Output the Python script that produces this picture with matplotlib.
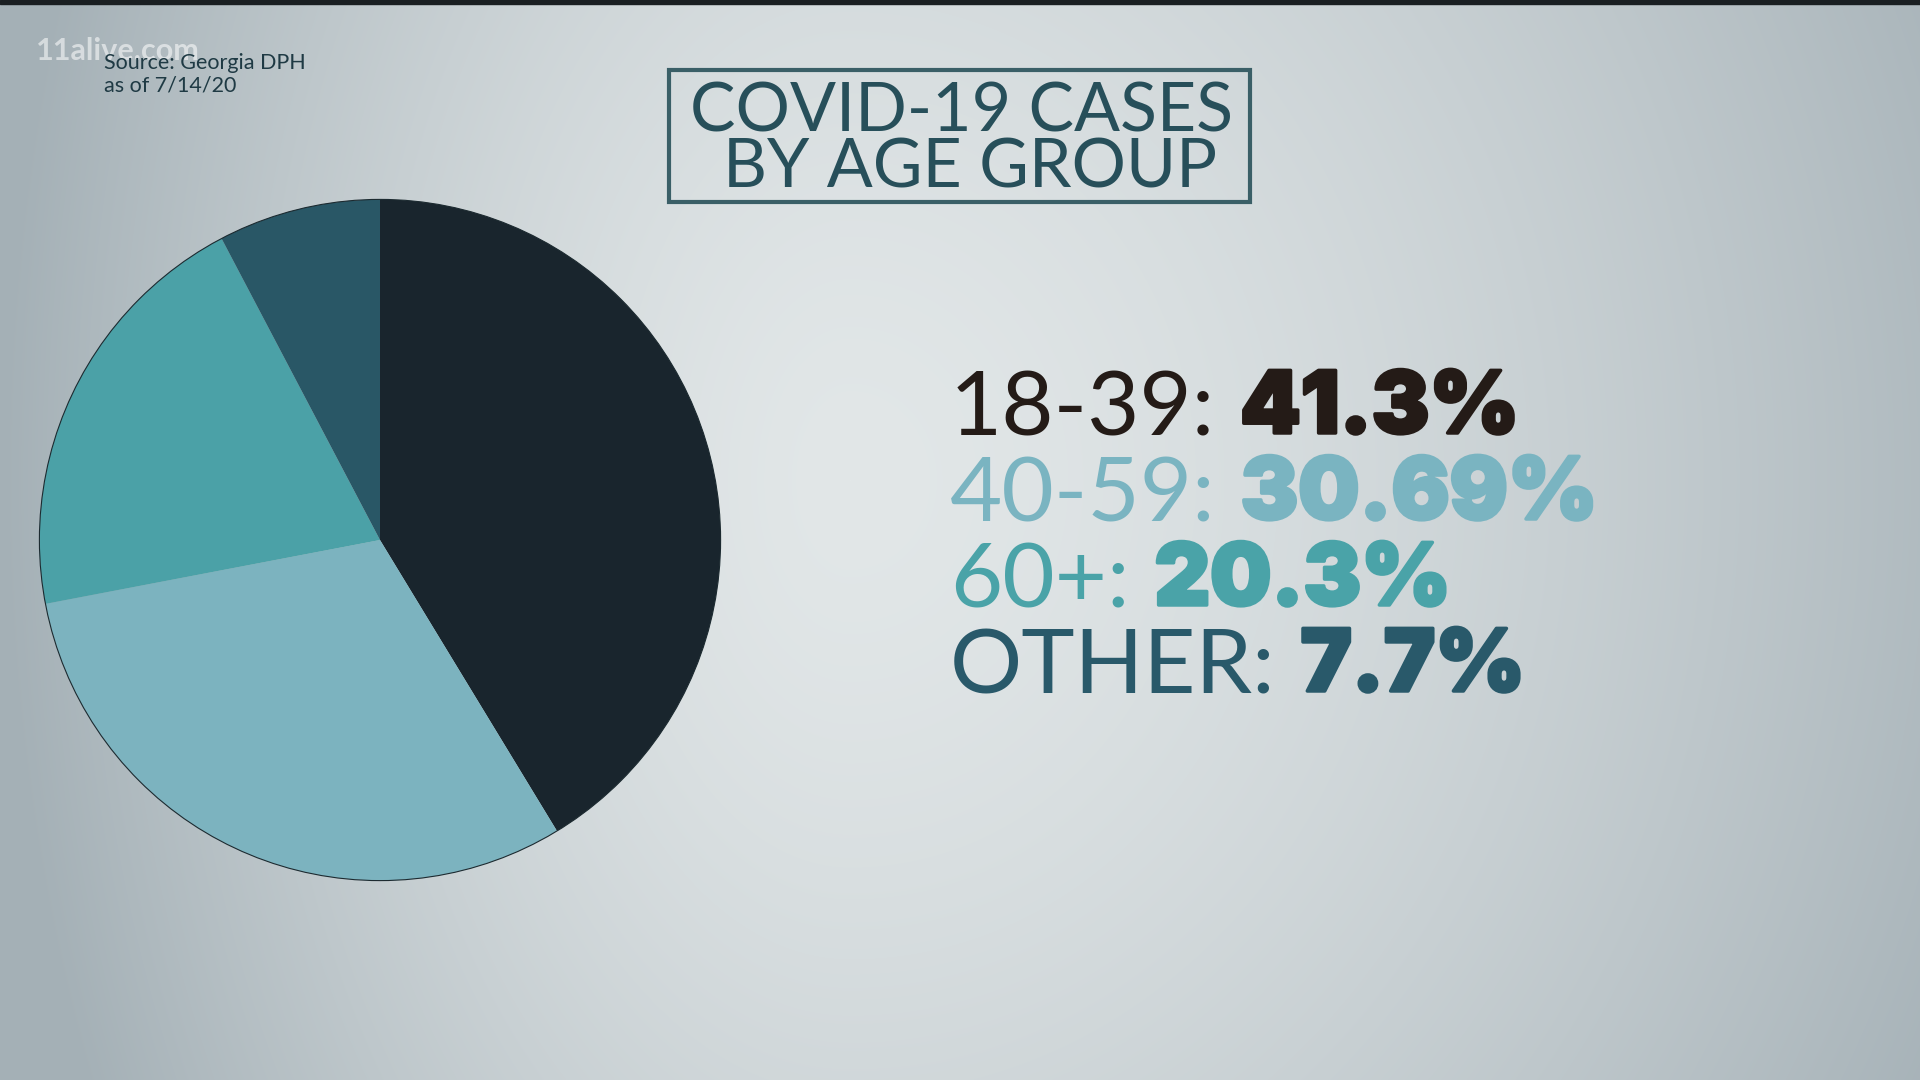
import numpy as np
import matplotlib
matplotlib.use("Agg")
from matplotlib import pyplot as plt
from matplotlib.patches import Rectangle, Circle
import matplotlib.patheffects as pe

# data
groups = ["18-39", "40-59", "60+", "OTHER"]
shares = [41.3, 30.69, 20.3, 7.7]
share_labels = ["41.3%", "30.69%", "20.3%", "7.7%"]
wedge_colors = ["#19252d", "#7cb3bf", "#4ba1a7", "#295766"]
text_colors = ["#241b17", "#7ab4c1", "#4aa3a8", "#29596a"]

W, H = 1920, 1080
fig = plt.figure(figsize=(19.2, 10.8), dpi=100)

# background: soft vignette, mostly left/right
bg = fig.add_axes([0, 0, 1, 1])
yy, xx = np.mgrid[0:H, 0:W]
sx = np.where(xx < 850, 850.0, 1250.0)
d = np.sqrt(((xx - 850) / sx) ** 2 + ((yy - 480) / 1400.0) ** 2)
d = np.clip(d, 0, 1.0)
c0 = np.array([226, 231, 232]) / 255.0
c1 = np.array([164, 176, 182]) / 255.0
t = d ** 1.5
img = c0[None, None, :] * (1 - t[..., None]) + c1[None, None, :] * t[..., None]
bg.imshow(img, extent=[0, W, H, 0], aspect="auto")
bg.set_xlim(0, W)
bg.set_ylim(H, 0)
bg.axis("off")
bg.add_patch(Rectangle((0, 0), W, 4, color="#1a1f22"))

# pie
r = 344
cx, cy = 380, 540
pax = fig.add_axes([(cx - r) / W, (H - cy - r) / H, 2 * r / W, 2 * r / H])
pax.pie(shares, colors=wedge_colors, startangle=90, counterclock=False,
        wedgeprops=dict(linewidth=0))
pax.add_patch(Circle((0, 0), 1, fill=False, edgecolor="#1c2a30", linewidth=0.8))
pax.set_xlim(-1.01, 1.01)
pax.set_ylim(-1.01, 1.01)
pax.axis("off")

# title box
bg.add_patch(Rectangle((669, 70), 581, 132, fill=False, edgecolor="#3a5f67", linewidth=3))
bg.text(962, 113, "COVID-19 CASES", fontsize=49, family="Lato", color="#274f5a",
        ha="center", va="center")
bg.text(970, 169, "BY AGE GROUP", fontsize=49, family="Lato", color="#274f5a",
        ha="center", va="center")

# source + watermark
bg.text(36, 60, "11alive.com", fontsize=22, family="Lato", fontweight="bold",
        color="white", alpha=0.55, va="baseline")
bg.text(104, 69, "Source: Georgia DPH", fontsize=15.5, family="Lato", color="#1f3a44",
        va="baseline")
bg.text(104, 91, "as of 7/14/20", fontsize=15.5, family="Lato", color="#1f3a44",
        va="baseline")

# value list
baselines = [435, 521, 607, 693]
for g, lab, col, yb in zip(groups, share_labels, text_colors, baselines):
    t1 = bg.text(950, yb, g + ":", fontsize=65, family="Lato", fontweight="normal",
                 color=col, va="baseline")
    bg.annotate(lab, xy=(1, 0), xycoords=t1, xytext=(18, 0), textcoords="offset points",
                fontsize=62, family="Inter", fontweight="black", color=col,
                va="bottom", ha="left",
                path_effects=[pe.withStroke(linewidth=2.5, foreground=col)])

fig.savefig("out.png", dpi=100)
